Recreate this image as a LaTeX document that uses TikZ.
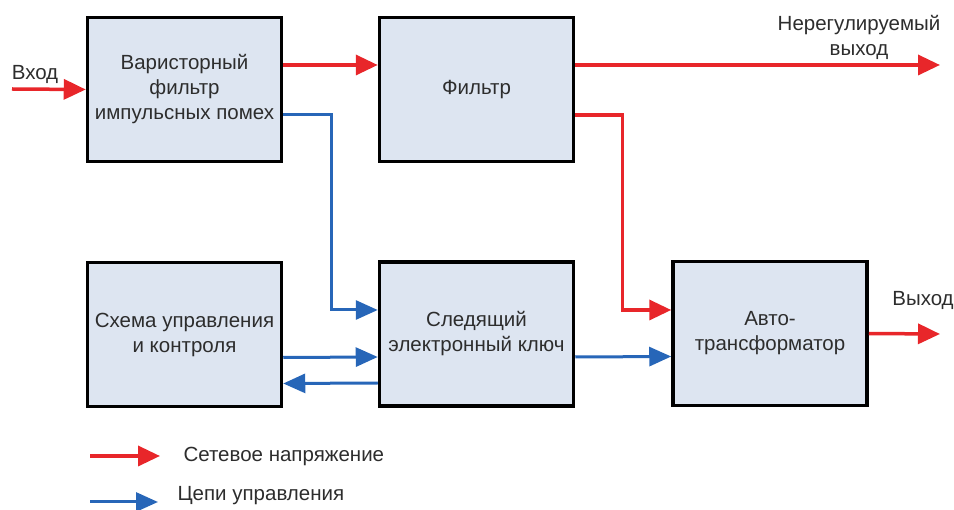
\documentclass[tikz,border=0pt]{standalone}
\usepackage{fontspec}
\setmainfont{Liberation Sans}
\usetikzlibrary{arrows.meta}

\definecolor{boxfill}{RGB}{221,229,241}
\definecolor{mainsred}{RGB}{232,38,42}
\definecolor{ctrlblue}{RGB}{39,102,184}
\definecolor{textgrey}{RGB}{45,45,45}

\tikzset{
	block/.style = {draw = black, line width = 3.5pt, fill = boxfill, minimum width = 194pt,
		minimum height = 144pt, align = center, text = textgrey},
	mains/.style = {draw = mainsred, line width = 3.5pt, -{Triangle[length = 22pt, width = 20pt]}},
	ctrl/.style = {draw = ctrlblue, line width = 3pt, -{Triangle[length = 22pt, width = 19pt]}},
	lbl/.style = {text = textgrey, align = center}
}

\begin{document}
\begin{tikzpicture}[x = 1pt, y = -1pt, font = \fontsize{20.5}{25}\selectfont]

	% Frame
	
	\useasboundingbox (0, 0) rectangle (954, 510);
	
	% Blocks
	
	\node [block] (var) at (184.5, 89.5) {Варисторный\\фильтр\\импульсных помех};
	\node [block] (filt) at (476.5, 89.5) {Фильтр};
	\node [block] (ctl) at (184.5, 334.5) {Схема управления\\и контроля};
	\node [block] (key) at (476.5, 334) {Следящий\\электронный ключ};
	\node [block] (auto) at (770, 333.5) {Авто-\\трансформатор};
	
	% Free ends
	
	\coordinate (in) at (12, 89);
	\coordinate (uout) at (940, 65);
	\coordinate (out) at (940, 334);
	
	% Mains voltage
	
	\draw [mains] (in) -- (var.west);
	\draw [mains] ([yshift = 24.5pt] var.east) -- ([yshift = 24.5pt] filt.west);
	\draw [mains] ([yshift = 24.5pt] filt.east) -- (uout);
	\draw [mains] ([yshift = -25.5pt] filt.east) -- ++(47, 0) |- ([yshift = 23.5pt] auto.west);
	\draw [mains] (auto.east) -- (out);
	
	% Control circuits
	
	\draw [ctrl] ([yshift = -25.5pt] var.east) -- ++(48.5, 0) |- ([yshift = 24pt] key.west);
	\draw [ctrl] ([yshift = -23pt] ctl.east) -- ([yshift = -23pt] key.west);
	\draw [ctrl] ([yshift = -49pt] key.west) -- ([yshift = -49pt] ctl.east);
	\draw [ctrl] ([yshift = -23pt] key.east) -- ([yshift = -23pt] auto.west);
	
	% Labels
	
	\node [lbl] (inlbl) at (35, 74) {Вход};
	\node [lbl] (uoutlbl) at (859, 37) {Нерегулируемый\\выход};
	\node [lbl] (outlbl) at (923, 300) {Выход};
	
	% Legend
	
	\coordinate (leg1a) at (90, 456);
	\coordinate (leg1b) at (160, 456);
	\coordinate (leg2a) at (90, 502);
	\coordinate (leg2b) at (158, 502);
	
	\draw [mains] (leg1a) -- (leg1b);
	\draw [ctrl] (leg2a) -- (leg2b);
	
	\node [lbl, anchor = west] (leg1) at (180, 456) {Сетевое напряжение};
	\node [lbl, anchor = west] (leg2) at (174, 496) {Цепи управления};

\end{tikzpicture}
\end{document}
